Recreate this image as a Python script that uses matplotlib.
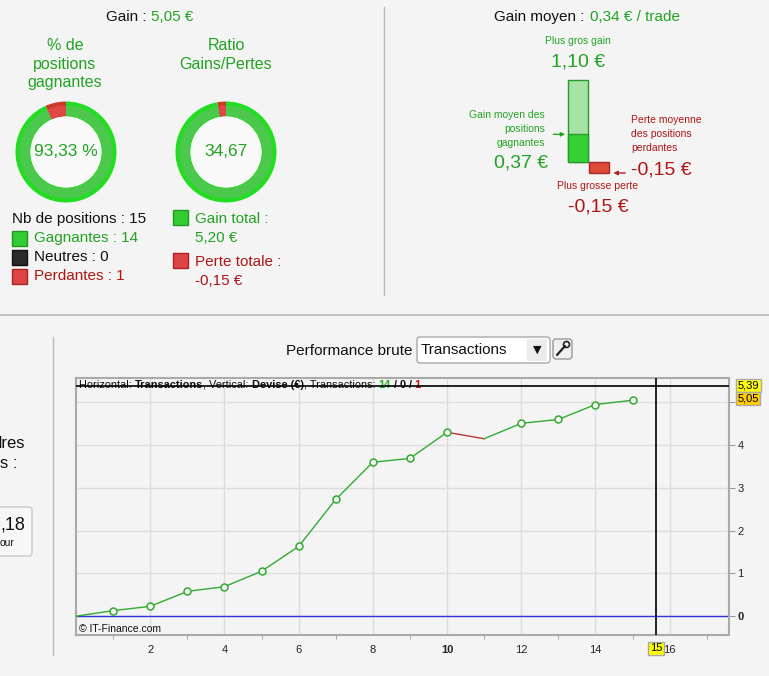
import matplotlib
matplotlib.use('Agg')
import matplotlib.pyplot as plt
from matplotlib.patches import Rectangle, FancyBboxPatch, Circle

plt.rcParams['font.family'] = ['Liberation Sans', 'DejaVu Sans']

W, H = 769, 676
BG = '#f4f4f4'
GREEN = '#22a322'
RED = '#b01515'
TXT = '#111111'
LINE_G = '#33aa33'
LINE_R = '#bb3333'

# counts of positions
count_names = ['Gagnantes', 'Neutres', 'Perdantes']
count_values = [14, 0, 1]
count_colors = ['#33cc33', '#2a2a2a', '#dd4444']

# totals
gain_total = 5.20
perte_totale = -0.15

# gain / loss bars
plus_gros_gain = 1.10
gain_moyen_gagnantes = 0.37
perte_moyenne_perdantes = -0.15
plus_grosse_perte = -0.15

# cumulated performance per transaction
trades = list(range(16))
perf = [0, 0.13, 0.23, 0.58, 0.69, 1.05, 1.63, 2.73, 3.60, 3.69,
        4.30, 4.15, 4.51, 4.60, 4.95, 5.05]
x_ticks = [2, 4, 6, 8, 10, 12, 14, 16]
y_ticks = [0, 1, 2, 3, 4, 5]
cursor_x = 15.64
cursor_y = 5.39


def fr(v):
    return f"{v:.2f}".replace('.', ',')


n_pos = sum(count_values)
gain = perf[-1]
pct_win = 100 * count_values[0] / n_pos
ratio = gain_total / abs(perte_totale)
gain_moyen = gain / n_pos

fig = plt.figure(figsize=(W / 100, H / 100), dpi=100)
fig.patch.set_facecolor(BG)

# overlay in pixel units for layout, text and widgets
bg = fig.add_axes([0, 0, 1, 1])
bg.set_xlim(0, W)
bg.set_ylim(H, 0)
bg.axis('off')


def px_axes(x0, y0, x1, y1):
    return fig.add_axes([x0 / W, 1 - y1 / H, (x1 - x0) / W, (y1 - y0) / H])


def txt(x, y, s, **kw):
    kw.setdefault('va', 'center')
    kw.setdefault('color', TXT)
    return bg.text(x, y, s, **kw)


# separators
bg.plot([384, 384], [7, 295], color='#bbbbbb', lw=1)
bg.plot([0, W], [315, 315], color='#bbbbbb', lw=1.3)
bg.plot([53, 53], [337, 655], color='#bbbbbb', lw=1)

# ---------- top left ----------
txt(146, 17, "Gain :", ha='right', fontsize=11)
txt(151, 17, fr(gain) + " €", ha='left', fontsize=11, color=GREEN)
txt(65, 64, "% de\npositions\ngagnantes", ha='center', fontsize=11.5,
    color=GREEN, linespacing=1.3)
txt(226, 55, "Ratio\nGains/Pertes", ha='center', fontsize=11.5,
    color=GREEN, linespacing=1.3)


def donut(cx, cy, vals, cols, label):
    ax = px_axes(cx - 51, cy - 51, cx + 51, cy + 51)
    vv = [v for v in vals if v > 0]
    cc = [c for v, c in zip(vals, cols) if v > 0]
    ax.pie(vv, colors=cc, startangle=90, counterclock=True, radius=1,
           wedgeprops=dict(width=0.3, edgecolor='none'))
    inner = ['#4cc84c' if c == '#22dd22' else '#e04848' for c in cc]
    ax.pie(vv, colors=inner, startangle=90, counterclock=True, radius=0.92,
           wedgeprops=dict(width=0.2, edgecolor='none'))
    ax.add_patch(Circle((0, 0), 0.705, fc='#f9f9f9', ec='none'))
    ax.set_xlim(-1.01, 1.01)
    ax.set_ylim(-1.01, 1.01)
    ax.text(0, 0, label, ha='center', va='center', fontsize=12.5, color=GREEN)


donut(66, 152, count_values[::-1], ['#cc3a2a', '#222222', '#22dd22'],
      fr(pct_win) + " %")
donut(226, 152, [abs(perte_totale), gain_total], ['#cc3a2a', '#22dd22'],
      fr(ratio))

txt(12, 219, f"Nb de positions : {n_pos}", fontsize=11)
name_colors = [GREEN, TXT, RED]
edge_colors = ['#229922', '#111111', '#aa2222']
for i, (name, val) in enumerate(zip(count_names, count_values)):
    y = 238 + 19 * i
    bg.add_patch(Rectangle((12, y - 7.5), 15, 15, fc=count_colors[i],
                           ec=edge_colors[i], lw=1))
    txt(34, y, f"{name} : {val}", fontsize=11, color=name_colors[i])

bg.add_patch(Rectangle((173, 210), 15, 15, fc='#33cc33', ec='#229922', lw=1))
txt(195, 219, "Gain total :", fontsize=11, color=GREEN)
txt(195, 238, fr(gain_total) + " €", fontsize=11, color=GREEN)
bg.add_patch(Rectangle((173, 253), 15, 15, fc='#dd4444', ec='#aa2222', lw=1))
txt(195, 262, "Perte totale :", fontsize=11, color=RED)
txt(195, 281, fr(perte_totale) + " €", fontsize=11, color=RED)

# ---------- top right ----------
txt(584, 17, "Gain moyen :", ha='right', fontsize=11)
txt(590, 17, fr(gain_moyen) + " € / trade", ha='left', fontsize=11, color=GREEN)
txt(578, 41, "Plus gros gain", ha='center', fontsize=7.5, color=GREEN)
txt(578, 62, fr(plus_gros_gain) + " €", ha='center', fontsize=14, color=GREEN)
txt(545, 129, "Gain moyen des\npositions\ngagnantes", ha='right',
    fontsize=7.5, color=GREEN, linespacing=1.5)
txt(548, 163, fr(gain_moyen_gagnantes) + " €", ha='right', fontsize=14,
    color=GREEN)
txt(631, 134, "Perte moyenne\ndes positions\nperdantes", ha='left',
    fontsize=7.5, color=RED, linespacing=1.5)
txt(631, 170, fr(perte_moyenne_perdantes) + " €", ha='left', fontsize=14,
    color=RED)
txt(598, 186, "Plus grosse perte", ha='center', fontsize=7.5, color=RED)
txt(598, 207, fr(plus_grosse_perte) + " €", ha='center', fontsize=14,
    color=RED)

bax = px_axes(568, 80, 609, 173)
bax.axis('off')
bax.set_xlim(-0.5, 1.5)
bax.set_ylim(plus_grosse_perte, plus_gros_gain)
bax.bar(0, plus_gros_gain, width=0.97, color='#a6e2a6', edgecolor='#2a9a2a',
        lw=1, clip_on=False)
bax.bar(0, gain_moyen_gagnantes, width=0.97, color='#33d033',
        edgecolor='#2a9a2a', lw=1, clip_on=False)
bax.bar(1, perte_moyenne_perdantes, width=0.97, color='#dd4a3a',
        edgecolor='#a52a2a', lw=1, clip_on=False)
bax.annotate('', xy=(-0.5, gain_moyen_gagnantes), xytext=(-12.5, 0),
             textcoords='offset points', annotation_clip=False,
             arrowprops=dict(arrowstyle='-|>', color='#22aa22', lw=1,
                             mutation_scale=6))
bax.annotate('', xy=(1.58, perte_moyenne_perdantes), xytext=(12.5, 0),
             textcoords='offset points', annotation_clip=False,
             arrowprops=dict(arrowstyle='-|>', color='#aa2222', lw=1,
                             mutation_scale=6))

# ---------- bottom left clipped panel ----------
txt(25, 444, "dres", ha='right', fontsize=12)
txt(17, 464, "s :", ha='right', fontsize=12)
bg.add_patch(FancyBboxPatch((-10, 507), 42, 49,
                            boxstyle='round,pad=0,rounding_size=3',
                            fc='#f7f7f7', ec='#c8c8c8', lw=1))
txt(25, 525, ",18", ha='right', fontsize=13)
txt(15, 543, "our", ha='right', fontsize=7.5)

# ---------- performance header ----------
txt(413, 351, "Performance brute", ha='right', fontsize=11)
bg.add_patch(FancyBboxPatch((417, 337), 133, 26,
                            boxstyle='round,pad=0,rounding_size=3',
                            fc='white', ec='#aaaaaa', lw=1))
bg.add_patch(Rectangle((527, 339), 20, 22, fc='#ececec', ec='none'))
txt(537, 350, "▼", ha='center', fontsize=8, family='DejaVu Sans')
txt(421, 350, "Transactions", ha='left', fontsize=11)
bg.add_patch(FancyBboxPatch((553, 339), 19, 20,
                            boxstyle='round,pad=0,rounding_size=3',
                            fc='#f0f0f0', ec='#999999', lw=1))
bg.plot([557, 565], [355, 346], color='#222222', lw=1.6,
        solid_capstyle='round')
bg.add_patch(Circle((566.5, 344.5), 3, fc='#f0f0f0', ec='#222222', lw=1.2))

# ---------- performance chart ----------
ax = px_axes(76, 378, 729, 635)
ax.set_facecolor(BG)
ax.set_xlim(0, 17.6)
ax.set_ylim(-0.44, 5.57)
for s in ax.spines.values():
    s.set_color('#aaaaaa')
    s.set_linewidth(1.5)

ax.set_xticks(x_ticks)
ax.set_xticklabels([str(t) for t in x_ticks])
ax.set_xticks(list(range(1, 18, 2)), minor=True)
ax.tick_params(axis='x', which='major', length=0, pad=7, labelsize=8,
               labelcolor='#222222')
ax.tick_params(axis='x', which='minor', length=3, color='#999999')
for lab in ax.get_xticklabels():
    if lab.get_text() == '10':
        lab.set_fontweight('bold')

ax.yaxis.tick_right()
ax.set_yticks(y_ticks)
ax.set_yticklabels([str(t) if t < 5 else '' for t in y_ticks])
ax.tick_params(axis='y', length=4, color='#999999', pad=2, labelsize=8,
               labelcolor='#222222')
ax.get_yticklabels()[0].set_fontweight('bold')
ax.grid(True, which='major', color='#dcdcdc', lw=1)
ax.set_axisbelow(True)

ax.axhline(0, color='#3333dd', lw=1, zorder=2)
for i in range(1, len(perf)):
    c = LINE_G if perf[i] >= perf[i - 1] else LINE_R
    ax.plot(trades[i - 1:i + 1], perf[i - 1:i + 1], color=c, lw=1, zorder=3)
wins = [i for i in range(1, len(perf)) if perf[i] > perf[i - 1]]
ax.plot([trades[i] for i in wins], [perf[i] for i in wins], 'o', ms=5,
        mfc=BG, mec=LINE_G, mew=1.1, zorder=4)

# header text in several styles
n_win, n_neutral, n_loss = count_values
pieces = [("Horizontal: ", 'normal', TXT), ("Transactions", 'bold', TXT),
          (", Vertical: ", 'normal', TXT), ("Devise (€)", 'bold', TXT),
          (", Transactions: ", 'normal', TXT), (str(n_win), 'bold', '#22aa22'),
          (" / ", 'bold', TXT), (str(n_neutral), 'bold', TXT),
          (" / ", 'bold', TXT), (str(n_loss), 'bold', '#cc1111')]
t = ax.text(0.005, 0.973, pieces[0][0], transform=ax.transAxes, va='center',
            ha='left', fontsize=7.9, fontweight=pieces[0][1],
            color=pieces[0][2])
for s, w, c in pieces[1:]:
    t = ax.annotate(s, xy=(1, 0), xycoords=t, va='bottom', ha='left',
                    fontsize=7.9, fontweight=w, color=c)
ax.text(0.005, 0.023, "© IT-Finance.com", transform=ax.transAxes,
        va='center', ha='left', fontsize=7.5, color=TXT)

# crosshair
ax.axvline(cursor_x, color='black', lw=1.2, zorder=6)
ax.axhline(cursor_y, color='black', lw=1.2, zorder=6)
ax.annotate(fr(cursor_y), xy=(1, cursor_y), xycoords=('axes fraction', 'data'),
            xytext=(6, 0), textcoords='offset points', ha='left', va='center',
            fontsize=8, annotation_clip=False,
            bbox=dict(boxstyle='square,pad=0.15', fc='#ffff00', ec='#aaaaaa',
                      lw=1))
ax.annotate(fr(gain), xy=(1, gain), xycoords=('axes fraction', 'data'),
            xytext=(6, 1.2), textcoords='offset points', ha='left',
            va='center', fontsize=8, annotation_clip=False,
            bbox=dict(boxstyle='square,pad=0.15', fc='#ffcc00', ec='#aaaaaa',
                      lw=1))
ax.annotate(str(int(cursor_x)), xy=(cursor_x, 0),
            xycoords=('data', 'axes fraction'), xytext=(0, -9.5),
            textcoords='offset points', ha='center', va='center', fontsize=8,
            annotation_clip=False,
            bbox=dict(boxstyle='square,pad=0.15', fc='#ffff00', ec='#aaaaaa',
                      lw=1))

fig.savefig('out.png', dpi=100, facecolor=BG)
